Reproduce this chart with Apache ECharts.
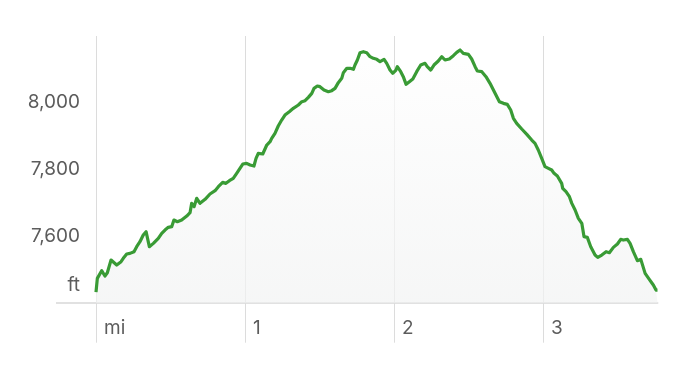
<!DOCTYPE html>
<html>
<head>
<meta charset="utf-8">
<script src="https://cdn.jsdelivr.net/npm/echarts@6/dist/echarts.min.js"></script>
<style>
html,body{margin:0;padding:0;background:#fff;}
#chart{width:694px;height:366px;}
</style>
</head>
<body>
<div id="chart"></div>
<script>
// distance along trail (miles)
const miles = [
0.000,0.009,0.038,0.060,0.076,0.101,0.112,0.139,0.168,0.183,0.206,0.228,0.255,0.273,0.295,0.317,0.336,0.358,0.385,0.418,
0.441,0.463,0.485,0.508,0.523,0.546,0.575,0.609,0.631,0.642,0.658,0.676,0.698,0.732,0.765,0.799,0.821,0.850,0.872,0.895,
0.921,0.944,0.966,0.985,1.011,1.034,1.060,1.074,1.089,1.119,1.146,1.168,1.179,1.201,1.223,1.246,1.268,1.297,1.324,1.358,
1.381,1.403,1.425,1.448,1.463,1.485,1.503,1.530,1.559,1.582,1.604,1.626,1.649,1.660,1.683,1.705,1.727,1.738,1.754,1.772,
1.794,1.817,1.839,1.861,1.884,1.906,1.933,1.951,1.973,1.991,2.013,2.022,2.045,2.062,2.081,2.103,2.126,2.152,2.179,2.208,
2.223,2.246,2.268,2.297,2.320,2.342,2.371,2.398,2.421,2.443,2.465,2.499,2.521,2.544,2.559,2.589,2.617,2.644,2.678,2.707,
2.734,2.760,2.783,2.801,2.823,2.857,2.891,2.924,2.946,2.968,2.991,3.013,3.036,3.058,3.074,3.096,3.125,3.132,3.154,3.177,
3.193,3.215,3.237,3.260,3.275,3.297,3.320,3.349,3.367,3.394,3.423,3.445,3.472,3.499,3.521,3.539,3.566,3.584,3.606,3.633,
3.656,3.685,3.713,3.740,3.758,3.768
];
// elevation (feet)
const elevation = [
7432,7473,7496,7480,7490,7528,7530,7513,7523,7533,7546,7548,7553,7568,7583,7603,7613,7568,7578,7593,
7608,7618,7626,7628,7648,7643,7648,7660,7670,7698,7688,7713,7698,7710,7726,7736,7748,7761,7758,7766,
7773,7788,7803,7816,7818,7813,7810,7833,7848,7846,7873,7883,7893,7908,7930,7948,7963,7973,7983,7993,
8003,8006,8016,8028,8043,8050,8048,8038,8033,8036,8043,8060,8073,8090,8103,8103,8100,8113,8128,8150,
8153,8150,8138,8133,8130,8123,8130,8118,8098,8088,8098,8108,8093,8078,8055,8063,8071,8093,8113,8118,
8108,8098,8113,8125,8138,8128,8131,8141,8151,8158,8148,8145,8131,8108,8095,8093,8078,8058,8028,8003,
7998,7995,7978,7953,7938,7921,7905,7888,7878,7858,7833,7808,7803,7798,7788,7780,7758,7743,7733,7718,
7698,7678,7653,7638,7598,7596,7568,7543,7536,7543,7553,7550,7566,7576,7590,7588,7590,7578,7553,7526,
7530,7488,7470,7453,7438,7438
];
const xTicks = [0, 1, 2, 3];
const xTickLabels = ['mi', '1', '2', '3'];
const yTicks = [7400, 7600, 7800, 8000];
const yUnit = 'ft';

const data = miles.map((m, i) => [m, elevation[i]]);
const font = 'Inter, "Open Sans", Roboto, sans-serif';
const grey = '#5c5c5c';

const chart = echarts.init(document.getElementById('chart'), null, {renderer: 'canvas'});
chart.setOption({
  animation: false,
  backgroundColor: '#ffffff',
  grid: {left: 96, right: 36.5, top: 36, bottom: 63.3, containLabel: false},
  xAxis: {
    type: 'value',
    min: 0,
    max: miles[miles.length - 1],
    interval: 1,
    axisLine: {show: true, lineStyle: {color: '#e1e1e1', width: 2}},
    axisTick: {show: true, customValues: xTicks, length: 40, lineStyle: {color: '#dcdcdc', width: 1}},
    axisLabel: {
      customValues: xTicks,
      align: 'left',
      margin: 16,
      padding: [0, 0, 0, 8],
      color: grey,
      fontFamily: font,
      fontSize: 19,
      formatter: v => xTickLabels[xTicks.indexOf(v)] || ''
    },
    splitLine: {show: true, lineStyle: {color: ['#dcdcdc', '#dcdcdc', '#dcdcdc', '#dcdcdc', 'rgba(0,0,0,0)'], width: 1}}
  },
  yAxis: {
    type: 'value',
    min: 7400,
    max: 8200,
    interval: 200,
    axisLine: {show: false},
    axisTick: {show: true, customValues: [7400], length: 40, lineStyle: {color: '#e1e1e1', width: 2}},
    axisLabel: {
      margin: 16,
      color: grey,
      fontFamily: font,
      fontSize: 19,
      formatter: v => {
        if (v === 7400) return '{u|' + yUnit + '}';
        if (yTicks.indexOf(v) >= 0) return v.toLocaleString('en-US');
        return '';
      },
      rich: {u: {color: grey, fontFamily: font, fontSize: 19, padding: [0, 0, 35, 0]}}
    },
    splitLine: {show: true, lineStyle: {color: ['rgba(0,0,0,0)', '#d9d9d9', '#d9d9d9', '#d9d9d9', 'rgba(0,0,0,0)'], type: [8, 6], width: 1}}
  },
  series: [{
    type: 'line',
    data: data,
    showSymbol: false,
    symbol: 'none',
    lineStyle: {color: '#399b35', width: 3.2, join: 'round'},
    areaStyle: {
      color: new echarts.graphic.LinearGradient(0, 0, 0, 1, [
        {offset: 0, color: '#fefefe'},
        {offset: 1, color: '#f2f3f3'}
      ])
    },
    z: 3
  }]
});
</script>
</body>
</html>
